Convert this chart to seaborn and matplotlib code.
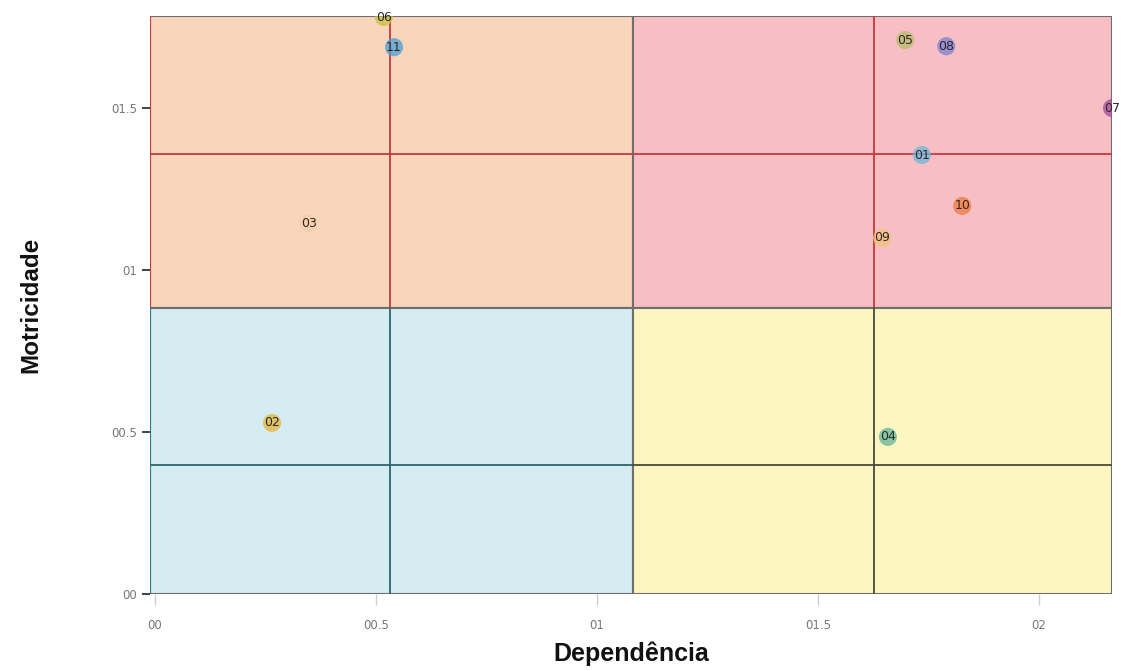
import matplotlib
matplotlib.use("Agg")
from matplotlib import pyplot as plt
from matplotlib import font_manager
from matplotlib.patches import Rectangle
import pandas as pd
import seaborn as sns

# variables (dependencia / motricidade)
labels = ['01', '02', '03', '04', '05', '06', '07', '08', '09', '10', '11']
dependencia = [1.735, 0.265, 0.348, 1.658, 1.697, 0.518, 2.165, 1.790, 1.645, 1.826, 0.541]
motricidade = [1.355, 0.528, 1.145, 0.485, 1.710, 1.781, 1.500, 1.691, 1.099, 1.198, 1.688]
point_colors = ['#6cb8dc', '#e8b53a', '#f6cfa8', '#5fb59a', '#b9bd6a', '#c9c23c',
                '#a24a9a', '#7a7fd6', '#f2c27a', '#f07a3a', '#4a9fd4']

ticks = [0, 0.5, 1, 1.5, 2]
tick_labels = ['00', '00.5', '01', '01.5', '02']

# quadrant limits and mean lines
x_split, y_split = 1.081, 0.883
x_max, y_max = 2.165, 1.784
x_left = -0.011
vlines = [0.532, 1.627]
hlines = [1.358, 0.398]

df = pd.DataFrame({'label': labels, 'dep': dependencia, 'mot': motricidade})

# arial-like bold font for axis titles (avoid the Narrow variant)
font_file = None
for f in font_manager.fontManager.ttflist:
    if f.name == 'Liberation Sans' and f.weight in (700, 'bold') and f.style == 'normal' \
            and 'Narrow' not in f.fname:
        font_file = f.fname
        break

def title_font(size):
    if font_file:
        return font_manager.FontProperties(fname=font_file, size=size)
    return font_manager.FontProperties(family='DejaVu Sans', weight='bold', size=size)

sns.set_style('white')
fig = plt.figure(figsize=(11.21, 6.71), dpi=100)
ax = fig.add_axes([0.1338, 0.1148, 0.8582, 0.8612])

quads = [
    (x_left, y_split, x_split - x_left, y_max - y_split, '#f9d5bb'),
    (x_split, y_split, x_max - x_split, y_max - y_split, '#f7bfc3'),
    (x_left, 0, x_split - x_left, y_split, '#d4ecf2'),
    (x_split, 0, x_max - x_split, y_split, '#fdf6c0'),
]
for x0, y0, w, h, fc in quads:
    ax.add_patch(Rectangle((x0, y0), w, h, facecolor=fc, edgecolor='#6e6e6e', lw=1.5, zorder=0))

# inner lines, coloured by quadrant
ax.plot([vlines[0], vlines[0]], [y_split, y_max], color='#c8383f', lw=1.3, zorder=1)
ax.plot([vlines[0], vlines[0]], [0, y_split], color='#2f6470', lw=1.3, zorder=1)
ax.plot([vlines[1], vlines[1]], [y_split, y_max], color='#c8383f', lw=1.3, zorder=1)
ax.plot([vlines[1], vlines[1]], [0, y_split], color='#4a4a3a', lw=1.3, zorder=1)
ax.plot([x_left, x_max], [hlines[0], hlines[0]], color='#c8383f', lw=1.3, zorder=1)
ax.plot([x_left, x_split], [hlines[1], hlines[1]], color='#2f6470', lw=1.3, zorder=1)
ax.plot([x_split, x_max], [hlines[1], hlines[1]], color='#4a4a3a', lw=1.3, zorder=1)
ax.plot([x_left, x_left], [y_split, y_max], color='#c8383f', lw=1.5, zorder=1)
ax.plot([x_left, x_left], [0, y_split], color='#2f7a80', lw=1.5, zorder=1)

sns.scatterplot(data=df, x='dep', y='mot', hue='label', palette=point_colors,
                s=170, alpha=0.75, edgecolor='none', legend=False, ax=ax, zorder=3)
for _, r in df.iterrows():
    ax.text(r['dep'], r['mot'], r['label'], ha='center', va='center',
            fontsize=9, color='#2a2a2a', zorder=4)

ax.set_xlim(x_left, x_max)
ax.set_ylim(0, y_max)
ax.set_xticks(ticks)
ax.set_xticklabels(tick_labels)
ax.set_yticks(ticks[:4])
ax.set_yticklabels(tick_labels[:4])
ax.tick_params(axis='x', bottom=True, colors='#cccccc', labelcolor='#777777',
               labelsize=8.5, length=8, width=1, pad=10)
ax.tick_params(axis='y', left=True, colors='#222222', labelcolor='#777777',
               labelsize=8.5, length=6, width=1.2, pad=3)
for sp in ax.spines.values():
    sp.set_visible(False)

ax.set_xlabel('Dependência', fontproperties=title_font(18), labelpad=7, color='#111111')
ax.set_ylabel('Motricidade', fontproperties=title_font(17.5), labelpad=50, color='#111111')

fig.savefig('out.png', dpi=100)
